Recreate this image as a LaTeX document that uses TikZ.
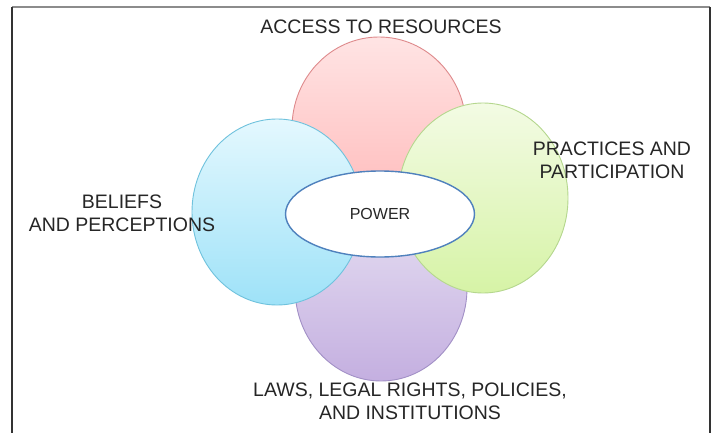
\documentclass[tikz,border=0pt]{standalone}
\usepackage{fontspec}
\setmainfont{Liberation Sans}
\usepackage{tikz}
\usetikzlibrary{shapes.geometric}
\definecolor{pinktop}{HTML}{FFE4E4}
\definecolor{pinkbot}{HTML}{FFB8B8}
\definecolor{pinkline}{HTML}{DE8A8C}
\definecolor{bluetop}{HTML}{E4F8FE}
\definecolor{bluebot}{HTML}{9EE2F8}
\definecolor{blueline}{HTML}{6FC2DD}
\definecolor{greentop}{HTML}{F3FBE4}
\definecolor{greenbot}{HTML}{D6F3A6}
\definecolor{greenline}{HTML}{B5D78E}
\definecolor{purptop}{HTML}{E8E2F3}
\definecolor{purpbot}{HTML}{C4AFE0}
\definecolor{purpline}{HTML}{A290C6}
\definecolor{powerline}{HTML}{4F81BD}

\begin{document}
\begin{tikzpicture}[x=1pt,y=-1pt,
    blob/.style={ellipse,draw,line width=0.9pt,inner sep=0pt},
    lbl/.style={text=black!85,align=center,inner sep=0pt,
      font=\fontsize{19.5}{23}\selectfont}]
              \useasboundingbox (0,0) rectangle (714,433);
              \fill[white](0,0)rectangle(714,433);
              % frame
              \draw[line width=2pt,black!45](12,7)--(710,7);
              \draw[line width=2pt,black!80](12,433)--(12,7);
              \draw[line width=2pt,black!80](710,7)--(710,433);
              % the four areas
              \node[blob,minimum width=174pt,minimum height=182pt,
                draw=pinkline,top color=pinktop,bottom color=pinkbot](res)at(379,128){};
              \node[blob,minimum width=172pt,minimum height=186pt,
                draw=purpline,top color=purptop,bottom color=purpbot](law)at(381,288){};
              \node[blob,minimum width=170pt,minimum height=186pt,
                draw=blueline,top color=bluetop,bottom color=bluebot](bel)at(277,212){};
              \node[blob,minimum width=170pt,minimum height=190pt,
                draw=greenline,top color=greentop,bottom color=greenbot](pra)at(483,198){};
              \node[blob,minimum width=189pt,minimum height=86pt,line width=1.4pt,
                draw=powerline,fill=white](pow)at(380,214){};
              % labels
              \node[lbl,font=\fontsize{16}{19}\selectfont](powtxt)at(pow){POWER};
              \node[lbl](restxt)at(381,27){ACCESS TO RESOURCES};
              \node[lbl](pratxt)at(612,160){PRACTICES AND\\PARTICIPATION};
              \node[lbl](beltxt)at(122,213){BELIEFS\\AND PERCEPTIONS};
              \node[lbl](lawtxt)at(410,401){LAWS, LEGAL RIGHTS, POLICIES,\\AND INSTITUTIONS};
            \end{tikzpicture}
\end{document}
